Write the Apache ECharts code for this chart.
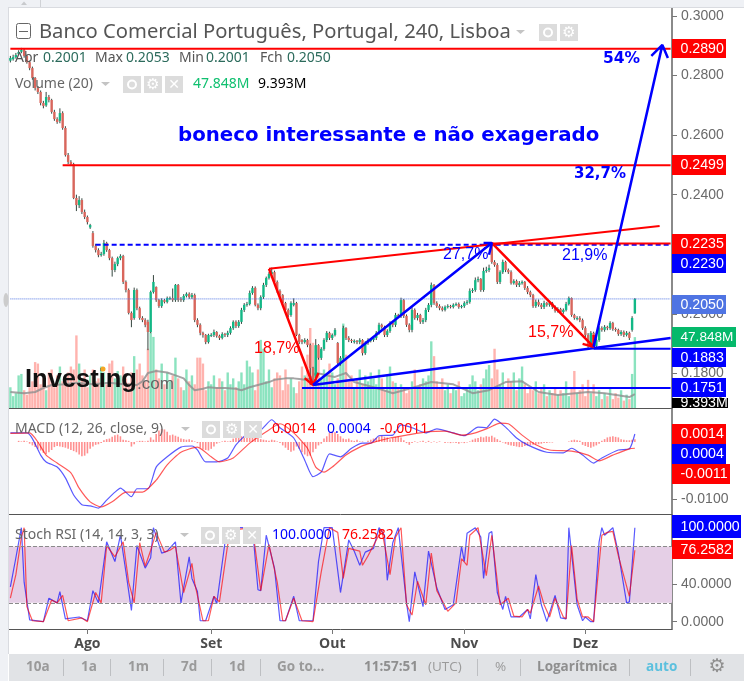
<!DOCTYPE html>
<html>
<head>
<meta charset="utf-8">
<title>Banco Comercial Português</title>
<style>html,body{margin:0;padding:0;background:#fff}#chart{width:744px;height:681px}</style>
<script src="https://cdn.jsdelivr.net/npm/echarts@6/dist/echarts.min.js"></script>
</head>
<body>
<div id="chart"></div>
<script>
// prices in 1/10000 EUR, one entry per 4h bar
var opens = [2850,2855,2862,2872,2880,2886,2866,2845,2825,2792,
2758,2745,2708,2700,2728,2718,2678,2654,2648,2674,
2624,2533,2510,2503,2389,2365,2382,2342,2325,2290,
2271,2228,2214,2197,2201,2238,2214,2187,2147,2167,
2187,2194,2107,2080,2003,1986,2080,2019,1986,1979,
1973,1939,2073,2090,2046,2026,2046,2040,2050,2053,
2046,2097,2050,2046,2060,2067,2056,2063,1979,1963,
1936,1929,1905,1929,1929,1939,1926,1919,1932,1929,
1936,1952,1973,1959,1973,2013,2030,2033,2070,2087,
2030,2019,2056,2097,2120,2134,2140,2107,2077,2063,
2036,2013,1996,2030,2036,1929,1912,1905,1912,1895,
1818,1784,1895,1852,1882,1912,1936,1919,1929,1902,
1835,1852,1952,1919,1912,1905,1909,1905,1912,1868,
1902,1909,1912,1919,1936,1963,1956,1929,1942,1969,
1963,1996,1993,2046,1993,1963,1946,2013,1986,1996,
1973,1979,2013,2030,2097,2036,2026,2019,2013,2023,
2026,2023,2030,2033,2023,2026,2036,2040,2077,2080,
2113,2117,2080,2144,2147,2230,2174,2164,2107,2140,
2174,2147,2140,2103,2110,2097,2103,2107,2087,2073,
2063,2026,2040,2030,2023,2036,2030,2036,2023,2010,
2016,2006,2013,2033,2053,1996,1986,1986,1979,1952,
1929,1895,1936,1892,1912,1952,1946,1956,1952,1969,
1949,1946,1932,1939,1929,1936,1946,2001];
var closes = [2859,2862,2869,2879,2886,2866,2845,2825,2792,2758,
2745,2708,2698,2728,2718,2678,2654,2644,2674,2624,
2533,2510,2503,2389,2365,2382,2342,2325,2308,2298,
2228,2214,2197,2201,2238,2214,2187,2147,2167,2187,
2194,2107,2080,2003,1979,2080,2019,1986,1979,1963,
1939,2073,2107,2046,2026,2046,2040,2053,2053,2046,
2097,2046,2046,2060,2067,2056,2063,1979,1963,1936,
1929,1905,1929,1929,1939,1926,1919,1932,1929,1936,
1952,1973,1959,1973,2013,2030,2033,2070,2087,2030,
2019,2056,2097,2120,2134,2140,2107,2077,2063,2036,
2013,1996,2036,2036,1929,1905,1905,1912,1895,1818,
1784,1895,1852,1882,1912,1936,1919,1929,1946,1835,
1852,1952,1919,1912,1909,1909,1905,1912,1868,1902,
1912,1912,1919,1936,1963,1956,1929,1942,1969,1963,
1996,1993,2046,1993,1963,1946,2013,1986,1996,1973,
1979,2013,2030,2097,2036,2026,2019,2013,2023,2026,
2023,2030,2033,2023,2026,2036,2040,2077,2080,2113,
2117,2080,2144,2147,2154,2174,2164,2107,2140,2174,
2147,2140,2103,2110,2097,2103,2107,2087,2073,2063,
2026,2040,2030,2023,2036,2030,2036,2023,2010,2016,
2006,2013,2033,2053,1996,1986,1986,1979,1952,1929,
1895,1936,1892,1912,1952,1946,1956,1952,1969,1949,
1946,1932,1939,1929,1936,1919,1986,2050];
var highs = [2866,2870,2876,2885,2893,2890,2870,2850,2830,2795,
2765,2750,2715,2745,2735,2722,2685,2660,2690,2680,
2630,2540,2516,2507,2400,2395,2388,2350,2330,2302,
2278,2235,2220,2208,2248,2242,2218,2192,2175,2192,
2200,2198,2112,2085,2008,2088,2085,2024,1992,1985,
1980,2078,2130,2092,2050,2052,2050,2058,2058,2085,
2100,2100,2056,2066,2072,2072,2070,2068,1985,1968,
1940,1932,1933,1935,1947,1942,1930,1938,1936,1943,
1958,1978,1978,1979,2020,2036,2040,2078,2093,2092,
2035,2062,2104,2125,2140,2155,2145,2112,2082,2066,
2040,2018,2042,2052,2040,1933,1915,1918,1916,1900,
1822,1915,1898,1888,1918,1942,1940,1934,1952,1905,
1858,1960,1955,1925,1916,1914,1912,1918,1915,1908,
1918,1916,1925,1942,1970,1967,1960,1948,1975,1973,
2003,2000,2054,2050,1998,1968,2022,2018,2003,2000,
1986,2020,2036,2105,2100,2042,2032,2025,2028,2032,
2030,2035,2038,2038,2030,2042,2046,2085,2086,2122,
2125,2120,2155,2158,2165,2235,2180,2170,2146,2182,
2178,2152,2146,2116,2115,2110,2112,2110,2093,2078,
2067,2048,2048,2036,2044,2040,2042,2040,2028,2022,
2020,2018,2040,2058,2055,2000,1992,1992,1984,1958,
1935,1942,1940,1918,1958,1958,1962,1960,1975,1973,
1954,1950,1945,1944,1942,1940,1992,2053];
var lows = [2844,2850,2857,2868,2875,2860,2840,2818,2786,2750,
2738,2700,2690,2695,2710,2672,2648,2638,2640,2618,
2528,2503,2496,2385,2345,2355,2335,2318,2300,2285,
2222,2206,2190,2192,2195,2208,2180,2125,2140,2160,
2180,2100,2072,1998,1955,1980,2012,1980,1972,1955,
1878,1935,2068,2040,2020,2020,2035,2035,2046,2040,
2040,2040,2040,2040,2055,2050,2050,1972,1955,1928,
1920,1898,1900,1922,1922,1920,1912,1914,1922,1922,
1930,1946,1952,1953,1966,2006,2024,2028,2064,2025,
2012,2012,2050,2090,2115,2128,2100,2070,2056,2030,
2006,1988,1990,2025,1925,1898,1898,1900,1888,1761,
1761,1775,1846,1845,1876,1905,1912,1912,1924,1830,
1826,1846,1912,1905,1902,1900,1898,1898,1860,1862,
1896,1904,1906,1912,1930,1950,1922,1922,1936,1955,
1956,1986,1986,1986,1956,1938,1938,1980,1978,1966,
1966,1972,2006,2022,2030,2020,2012,2008,2008,2018,
2018,2018,2026,2017,2018,2020,2030,2034,2070,2074,
2106,2074,2074,2138,2140,2168,2158,2100,2100,2134,
2140,2134,2098,2098,2090,2090,2098,2080,2066,2056,
2020,2020,2024,2016,2016,2024,2024,2016,2004,2004,
2000,2000,2008,2028,1990,1980,1978,1972,1946,1922,
1883,1890,1883,1885,1906,1940,1940,1945,1946,1943,
1940,1926,1926,1922,1924,1912,1940,2001];
// volume in millions
var volumes = [14,8,10,22,23,12,9,14,18,31,
30,16,20,12,24,26,14,22,28,18,
16,24,28,26,49,30,20,26,14,22,
26,18,20,28,24,16,30,32,20,25,
22,28,20,17,24,35,26,30,22,18,
40,51,48,26,20,30,16,24,18,22,
34,20,14,12,26,18,22,16,34,34,
30,12,18,16,22,14,20,18,12,24,
16,20,14,18,24,16,32,28,24,12,
26,46,40,18,26,14,20,24,22,12,
26,16,20,14,10,18,28,22,36,54,
44,42,34,20,26,22,30,24,16,20,
30,57,36,18,22,14,20,26,16,22,
18,24,20,16,26,20,12,22,28,18,
17,13,16,14,10,12,18,26,14,16,
20,18,22,45,35,18,14,20,12,16,
10,14,12,18,8,10,14,16,22,18,
12,16,20,26,29,20,40,26,16,24,
14,20,18,24,12,20,28,16,10,14,
12,18,10,14,16,8,12,10,14,9,
12,10,18,8,14,25,10,12,16,8,
19,10,16,8,12,6,10,8,14,6,
10,7,12,5,9,6,23,47.848];
var volumeMa = [[0,10.8],[5,10],[9,10.8],[12,13.5],[15,15.5],[20,16],[24,17],[30,16],[36,17],[41,16],[46,15.5],[48,18],[50,23.6],[53,25],[57,24],[60,22],[63,20],[65,15.5],[67,12],[70,13],[72,14],[75,13.5],[78,13.5],[82,13],[84,12],[87,14],[90,15.5],[94,17.5],[96,19],[100,20],[103,20],[105,19.5],[107,19],[109,20],[111,23.6],[113,23],[116,21.6],[118,21],[122,23.6],[125,17.5],[130,15],[134,13],[139,10],[146,13.5],[153,17.5],[161,16],[168,10],[174,12],[180,17.5],[186,18],[192,10.8],[199,8.8],[210,10.8],[216,10],[225,7.4],[227,9.393]];

// MACD panel, 1/10000
var macdLine = [[0,16],[6,16],[8,6],[11,-23],[13,-35],[17,-44],[20,-63],[23,-93],[26,-110],[29,-112],[32,-116],[35,-102],[38,-88],[40,-81],[44,-96],[46,-82],[50,-82],[53,-44],[57,-26],[62,-9],[66,-7],[68,-14],[71,-35],[75,-35],[79,-28],[82,-5],[87,18],[91,21],[95,39],[98,25],[103,7],[107,-32],[110,-61],[113,-53],[116,-21],[120,-26],[124,-11],[128,-2],[131,-2],[134,11],[139,12],[142,30],[146,25],[151,16],[155,23],[161,16],[165,11],[170,26],[173,25],[176,40],[180,26],[184,7],[188,-5],[195,-18],[201,-19],[204,-11],[208,-23],[212,-37],[215,-28],[221,-14],[225,-12],[227,14]];
var signalLine = [[0,15],[7,16],[10,0],[13,-23],[17,-37],[22,-54],[25,-81],[29,-105],[33,-114],[37,-105],[42,-88],[48,-88],[53,-67],[57,-40],[62,-18],[68,-9],[73,-26],[76,-35],[81,-28],[87,-2],[93,18],[98,32],[103,16],[108,-11],[111,-44],[114,-53],[117,-44],[122,-23],[127,-9],[131,-2],[138,7],[144,12],[152,18],[158,19],[164,12],[169,16],[174,25],[178,33],[181,32],[186,12],[191,-5],[196,-14],[204,-16],[210,-23],[214,-33],[219,-23],[225,-12],[227,-11]];
var macdHist = [0,0,0,2,1,2,1,-3,-6,-9,
-12,-15,-19,-21,-18,-14,-9,-7,-8,-9,
-10,-12,-14,-16,-18,-22,-25,-24,-20,-12,
-8,-5,-4,-2,3,5,6,9,12,13,
10,4,3,2,-8,-4,1,2,2,1,
2,8,4,14,20,23,22,18,12,13,
11,9,6,5,4,5,3,1,-2,-10,
-13,-14,-15,-12,-8,-3,-1,1,2,1,
2,6,9,11,10,9,10,7,9,8,
7,5,4,3,2,4,3,1,-2,-6,
-10,-14,-17,-15,-8,-12,-18,-22,-25,-24,
-18,-12,-6,-3,6,10,16,18,17,14,
10,6,5,6,3,2,4,1,1,0,
2,4,6,7,9,11,9,8,5,7,
9,10,8,3,-2,-5,-2,1,-1,1,
2,-1,2,-1,1,-1,1,0,-2,-1,
-2,-1,-2,-3,-1,-2,-1,1,4,6,
7,9,8,10,9,11,8,5,2,-1,
-3,-5,-6,-7,-8,-9,-9,-7,-6,-6,
-5,-4,-4,-3,-2,-2,-1,-1,0,0,
0,0,0,1,3,4,3,2,-5,-7,
-9,-10,-8,-6,-3,2,5,8,9,10,
9,8,5,4,3,3,4,5];

// Stoch RSI panel
var stochK = [[0,37],[2,68],[4,100],[5,42],[7,2],[12,0],[14,25],[17,20],[18,32],[20,3],[25,5],[28,1],[30,33],[32,20],[35,85],[38,64],[40,92],[42,53],[44,12],[46,81],[49,57],[51,68],[52,100],[55,73],[57,75],[60,85],[62,20],[65,69],[66,46],[68,32],[69,1],[71,1],[74,27],[75,19],[78,84],[80,100],[88,100],[90,34],[91,33],[93,92],[96,57],[98,1],[100,1],[103,27],[105,1],[110,1],[112,64],[114,100],[117,100],[120,31],[123,87],[125,75],[127,60],[129,74],[132,78],[134,100],[136,92],[137,44],[139,84],[141,100],[144,20],[145,0],[147,53],[150,16],[152,75],[155,36],[158,13],[161,18],[164,80],[165,64],[166,94],[169,100],[171,90],[172,46],[174,94],[175,96],[177,31],[179,13],[180,27],[182,5],[185,5],[188,13],[189,3],[191,50],[193,18],[195,0],[198,28],[200,4],[202,3],[203,100],[206,18],[208,1],[209,5],[211,0],[212,0],[214,85],[215,100],[216,92],[219,100],[221,73],[224,20],[225,21],[227,100]];
var stochD = [[0,25],[2,50],[4,90],[5,100],[6,16],[8,1],[12,0],[15,23],[17,20],[19,28],[21,1],[26,4],[28,0],[31,31],[33,20],[35,81],[38,69],[41,85],[43,42],[45,20],[47,84],[49,59],[51,76],[53,95],[56,74],[58,76],[60,80],[63,31],[66,62],[67,41],[70,1],[72,1],[74,27],[76,21],[79,82],[82,98],[88,100],[91,33],[94,82],[97,42],[99,1],[100,1],[103,25],[106,1],[110,0],[113,53],[116,100],[119,95],[121,46],[123,78],[127,75],[128,60],[130,70],[135,98],[138,50],[140,90],[142,100],[144,18],[146,7],[148,43],[151,18],[153,73],[155,33],[159,11],[162,20],[164,67],[166,60],[167,92],[170,100],[173,49],[175,92],[178,18],[181,25],[183,6],[186,5],[188,13],[189,9],[192,38],[194,18],[196,5],[198,25],[201,5],[202,3],[204,81],[206,24],[208,5],[210,5],[212,0],[215,92],[217,95],[219,96],[221,70],[225,27],[227,76]];

// drawn lines on the price pane: [bar, price]
var line2890 = [[0,.2890],[240,.2890]];
var line2499 = [[19,.2499],[240,.2499]];
var dashed2232 = [[31,.2232],[240,.2232]];
var line2236 = [[175,.2236],[240,.2236]];
var line1883 = [[212,.1883],[240,.1883]];
var line1751 = [[106,.1751],[240,.1751]];
var lastPrice = [[0,.2050],[240,.2050]];
var resistance = [[94,.2151],[236,.2295]];
var support = [[110,.1761],[240,.1919]];
var arrowDown1 = [[94,.2151],[110,.1761],[107,.1784],[110,.1761],[112,.1801]];
var arrowDown2 = [[175,.2238],[212,.1889],[208,.1899],[212,.1889],[212,.1929]];
var arrowUp1 = [[110,.1761],[175,.2238],[172,.2238],[175,.2238],[174,.2198]];
var arrowUp2 = [[212,.1889],[237,.2903],[233,.2866],[237,.2903],[239,.2859]];

var monthTicks = [[28,'Ago'],[73,'Set'],[117,'Out'],[165,'Nov'],[209,'Dez']];
var barCount = 241;
var categories = [];
for (var i = 0; i < barCount; i++) categories.push('');
monthTicks.forEach(function(t) { categories[t[0]] = t[1]; });

var GREEN = '#12b886', RED = '#d9665c';
var BLUE = '#0000ff', PURERED = '#ff0000';

var candleData = opens.map(function(o, n) {
  return [n, o / 1e4, closes[n] / 1e4, lows[n] / 1e4, highs[n] / 1e4];
});

function renderCandle(params, api) {
  var n = api.value(0);
  var o = api.coord([n, api.value(1)]);
  var c = api.coord([n, api.value(2)]);
  var l = api.coord([n, api.value(3)]);
  var h = api.coord([n, api.value(4)]);
  var top = Math.min(o[1], c[1]);
  var up = api.value(2) >= api.value(1);
  return {
    type: 'group',
    children: [{
      type: 'line',
      shape: {x1: o[0], y1: h[1], x2: o[0], y2: l[1]},
      style: {stroke: '#35463f', lineWidth: 1}
    }, {
      type: 'rect',
      shape: {x: o[0] - 1.2, y: top, width: 2.4, height: Math.max(Math.abs(o[1] - c[1]), 1)},
      style: {fill: up ? GREEN : RED}
    }]
  };
}

function scaled(list) {
  return list.map(function(p) { return [p[0], p[1] / 1e4]; });
}

function drawn(name, points, color, width, type, z) {
  return {
    name: name, type: 'line', data: points, xAxisIndex: 0, yAxisIndex: 0,
    showSymbol: false, silent: true, z: z || 5,
    lineStyle: {color: color, width: width, type: type || 'solid'}
  };
}

function indicator(name, points, color, grid, smooth) {
  return {
    name: name, type: 'line', data: points, xAxisIndex: grid, yAxisIndex: grid + 1,
    showSymbol: false, silent: true, z: 4, smooth: smooth || false,
    lineStyle: {color: color, width: 1.2, opacity: .65}
  };
}

function xAxisFor(grid, showLabels) {
  return {
    type: 'category', gridIndex: grid, data: categories,
    axisLine: {show: true, onZero: false, lineStyle: {color: '#555', width: 1}},
    axisTick: {
      show: showLabels, alignWithLabel: true, length: 5, lineStyle: {color: '#777'},
      interval: function(n, v) { return v !== ''; }
    },
    axisLabel: {
      show: showLabels, margin: 8, color: '#4c4c4c', fontSize: 14, fontWeight: 'bold',
      fontFamily: 'Open Sans', interval: function(n, v) { return v !== ''; }
    },
    splitLine: {show: false}
  };
}

function yAxisFor(grid, min, max, labels) {
  return {
    type: 'value', gridIndex: grid, position: 'right', min: min, max: max, scale: true,
    axisLine: {show: true, onZero: false, lineStyle: {color: '#8a8a8a', width: 2}},
    axisTick: {show: true, length: 5, lineStyle: {color: '#777'}, customValues: labels},
    axisLabel: {
      color: '#6a6a6a', fontSize: 14, fontFamily: 'Liberation Sans', margin: 9,
      customValues: labels,
      formatter: function(v) { return v.toFixed(4); }
    },
    splitLine: {show: false}
  };
}

// ---- page furniture and text
var SANS = '"Noto Sans"';
var g = [];
function rect(x, y, w, h, fill, z) {
  g.push({type: 'rect', silent: true, z: z || 20, shape: {x: x, y: y, width: w, height: h}, style: {fill: fill}});
}
function txt(x, y, s, color, size, weight, family, align) {
  g.push({type: 'text', silent: true, z: 30, x: x, y: y, style: {
    text: s, fill: color, font: (weight || 'normal') + ' ' + size + 'px ' + (family || SANS),
    textAlign: align || 'left', textVerticalAlign: 'middle'
  }});
}
function caret(x, y) {
  g.push({type: 'polygon', silent: true, z: 30, shape: {points: [[x, y], [x + 9, y], [x + 4.5, y + 4]]}, style: {fill: '#c4c4c4'}});
}
function icons(x, y, withClose) {
  rect(x, y, 18, 17, '#dcdcdc', 29);
  g.push({type: 'circle', silent: true, z: 30, shape: {cx: x + 9, cy: y + 8.5, r: 4}, style: {fill: 'none', stroke: '#fff', lineWidth: 2}});
  rect(x + 21, y, 18, 17, '#dcdcdc', 29);
  txt(x + 30, y + 9, '⚙', '#fff', 15, 'normal', 'DejaVu Sans', 'center');
  if (withClose) {
    rect(x + 42, y, 18, 17, '#dcdcdc', 29);
    txt(x + 51, y + 9, '✕', '#fff', 14, 'bold', 'DejaVu Sans', 'center');
  }
}
function tag(y1, y2, right, label, fill, size) {
  rect(672, y1, right - 672, y2 - y1, fill, 25);
  txt(680.5, (y1 + y2) / 2 + .5, label, '#fff', size || 14.2, 'normal', 'Liberation Sans');
}

// outer chrome
rect(0, 0, 744, 7, '#eff1f5');
rect(0, 7, 744, 1, '#d9dbe0');
rect(0, 0, 8, 681, '#eff1f5');
rect(8, 8, 1, 646, '#d9dbe0');
rect(9, 654, 735, 27, '#e1e3e6');
rect(40, 0, 1, 7, '#d0d2d6', 21);
g.push({type: 'polygon', silent: true, z: 21, shape: {points: [[21, 5], [27, 5], [24, 1.5]]}, style: {fill: '#c8cacd'}});
g.push({type: 'ellipse', silent: true, z: 21, shape: {cx: 6, cy: 300, rx: 2.5, ry: 7}, style: {fill: '#ccc'}});

// header
g.push({type: 'rect', silent: true, z: 30, shape: {x: 16.5, y: 23.5, width: 14, height: 15, r: 2}, style: {fill: '#fff', stroke: '#666', lineWidth: 1}});
rect(19, 31, 9, 1, '#666', 31);
txt(39, 32, 'Banco Comercial Português, Portugal, 240, Lisboa', '#555', 20.2, 'normal');
caret(516, 30);
icons(539, 24, false);
txt(15, 58.5, 'Abr', '#555', 14);
txt(43, 58.5, '0.2001', '#2c6b5c', 14);
txt(95, 58.5, 'Max', '#555', 14);
txt(126, 58.5, '0.2053', '#2c6b5c', 14);
txt(179, 58.5, 'Min', '#555', 14);
txt(206, 58.5, '0.2001', '#2c6b5c', 14);
txt(260, 58.5, 'Fch', '#555', 14);
txt(287, 58.5, '0.2050', '#2c6b5c', 14);
txt(15, 84, 'Volume (20)', '#666', 14);
caret(101, 82);
icons(123, 76, true);
txt(193, 84.5, '47.848M', '#10c070', 14);
txt(258, 84.5, '9.393M', '#000', 14);

// annotations
txt(178, 136, 'boneco interessante e não exagerado', BLUE, 19.8, 'bold', 'DejaVu Sans');
txt(603, 59, '54%', BLUE, 15.5, 'bold', 'DejaVu Sans');
txt(574, 174, '32,7%', BLUE, 15, 'bold', 'DejaVu Sans');
txt(443, 255, '27,7%', BLUE, 16, 'normal', 'Liberation Sans');
txt(562, 256, '21,9%', BLUE, 16, 'normal', 'Liberation Sans');
txt(254, 349, '18,7%', PURERED, 16, 'normal', 'Liberation Sans');
txt(528, 333, '15,7%', PURERED, 16, 'normal', 'Liberation Sans');

// watermark
txt(25, 380, 'Investing', '#111', 25.5, 'bold', 'Liberation Sans');
txt(137, 384, '.com', '#666', 17, 'normal', 'Liberation Sans');
g.push({type: 'circle', silent: true, z: 31, shape: {cx: 103, cy: 369, r: 2.5}, style: {fill: '#f5a623'}});

// indicator legends
txt(15, 429, 'MACD (12, 26, close, 9)', '#666', 14);
caret(181, 427);
icons(202, 421, true);
txt(272, 429.5, '0.0014', PURERED, 14);
txt(327, 429.5, '0.0004', BLUE, 14);
txt(380, 429.5, '-0.0011', PURERED, 14);
txt(15, 535, 'Stoch RSI (14, 14, 3, 3)', '#666', 14);
caret(180, 533);
icons(201, 527, true);
txt(272, 535.5, '100.0000', BLUE, 14);
txt(342, 535.5, '76.2582', PURERED, 14);

// price tags on the axis
tag(39, 58, 726, '0.2890', PURERED);
tag(155, 175, 726, '0.2499', PURERED);
tag(234, 254, 726, '0.2235', PURERED);
tag(254, 273, 726, '0.2230', BLUE);
tag(295, 314, 726, '0.2050', '#4f74e3');
tag(327, 347, 736, '47.848M', '#05b96b', 13.6);
tag(348, 367, 726, '0.1883', BLUE);
tag(378, 397, 726, '0.1751', BLUE);
tag(398, 408, 728, '9.393M', '#000');
tag(424, 444, 726, '0.0014', PURERED);
tag(444, 464, 726, '0.0004', BLUE);
tag(464, 484, 730, '-0.0011', PURERED);
tag(515, 538, 741, '100.0000', BLUE);
tag(540, 559, 733, '76.2582', PURERED);

// bottom toolbar
[[26,'10a'],[81,'1a'],[128,'1m'],[181,'7d'],[229,'1d'],[277,'Go to...']].forEach(function(b) {
  txt(b[0], 667.5, b[1], '#9a9a9a', 13.5, 'bold', 'Open Sans');
});
txt(364, 667.5, '11:57:51', '#8f8f8f', 13.5, 'bold', 'Open Sans');
txt(428, 667.5, '(UTC)', '#9a9a9a', 13.5, 'normal', 'Open Sans');
txt(495, 667.5, '%', '#9a9a9a', 13.5, 'normal', 'Open Sans');
txt(537, 667.5, 'Logarítmica', '#8f8f8f', 13.5, 'bold', 'Open Sans');
txt(646, 667.5, 'auto', '#5bc0de', 13.5, 'bold', 'Open Sans');
txt(717, 667, '⚙', '#8f8f8f', 19, 'normal', 'DejaVu Sans', 'center');
[63,110,163,211,260,477,520,629,690].forEach(function(x) { rect(x, 659, 1, 17, '#bdbfc2', 25); });

var chart = echarts.init(document.getElementById('chart'));
chart.setOption({
  animation: false,
  backgroundColor: '#fff',
  grid: [
    {left: 9, right: 72, top: 8, height: 400},
    {left: 9, right: 72, top: 408, height: 106},
    {left: 9, right: 72, top: 515, height: 114}
  ],
  xAxis: [xAxisFor(0, false), xAxisFor(1, false), xAxisFor(2, true), {
    type: 'category', gridIndex: 0, data: categories, show: false
  }],
  yAxis: [
    yAxisFor(0, .16837, .30269, [.17, .18, .20, .22, .24, .26, .28, .30]),
    {type: 'value', gridIndex: 0, min: 0, max: 270, show: false},
    yAxisFor(1, -.01263, .00596, [-.01]),
    yAxisFor(2, -7.8, 113.5, [0, 40, 80])
  ],
  graphic: {elements: g},
  series: [{
    name: 'Volume', type: 'bar', data: volumes, xAxisIndex: 3, yAxisIndex: 1, barWidth: 2.4, z: 1,
    silent: true,
    itemStyle: {color: function(p) {
      return closes[p.dataIndex] >= opens[p.dataIndex] ? '#8be3bf' : '#ffb3ae';
    }}
  }, {
    name: 'Volume MA', type: 'line', data: volumeMa, xAxisIndex: 3, yAxisIndex: 1,
    showSymbol: false, silent: true, z: 2,
    lineStyle: {color: '#8f8f8f', width: 2, opacity: .8}
  }, {
    name: 'Price', type: 'custom', data: candleData, xAxisIndex: 0, yAxisIndex: 0, z: 3, silent: true,
    renderItem: renderCandle, encode: {x: 0, y: [1, 2, 3, 4]}
  },
  drawn('Last', lastPrice, '#4f74e3', 1, 'dotted', 4),
  drawn('0.2890', line2890, PURERED, 2),
  drawn('0.2499', line2499, PURERED, 2),
  drawn('0.2230', dashed2232, BLUE, 2, [5, 3]),
  drawn('0.2235', line2236, PURERED, 2),
  drawn('0.1883', line1883, BLUE, 2),
  drawn('0.1751', line1751, BLUE, 2),
  drawn('Resistance', resistance, PURERED, 2),
  drawn('Support', support, BLUE, 2.5),
  drawn('Down 1', arrowDown1, PURERED, 2.5),
  drawn('Down 2', arrowDown2, PURERED, 2.5),
  drawn('Up 1', arrowUp1, BLUE, 2.5),
  drawn('Up 2', arrowUp2, BLUE, 2.5),
  {
    name: 'Histogram', type: 'bar', xAxisIndex: 1, yAxisIndex: 2, barWidth: 1.6, silent: true,
    data: macdHist.map(function(v) { return v / 1e4; }),
    itemStyle: {color: '#ff8f8f'}
  },
  indicator('MACD', scaled(macdLine), BLUE, 1, .2),
  indicator('Signal', scaled(signalLine), PURERED, 1, .2),
  {
    name: 'Stoch band', type: 'line', data: [], xAxisIndex: 2, yAxisIndex: 3, silent: true,
    markArea: {silent: true, itemStyle: {color: '#e5cfe6'}, data: [[{yAxis: 80}, {yAxis: 20}]]},
    markLine: {
      silent: true, symbol: 'none', label: {show: false},
      lineStyle: {color: '#8a8a8a', type: 'dashed', width: 1},
      data: [{yAxis: 80}, {yAxis: 20}]
    }
  },
  indicator('%K', stochK, BLUE, 2),
  indicator('%D', stochD, PURERED, 2)]
});
</script>
</body>
</html>
